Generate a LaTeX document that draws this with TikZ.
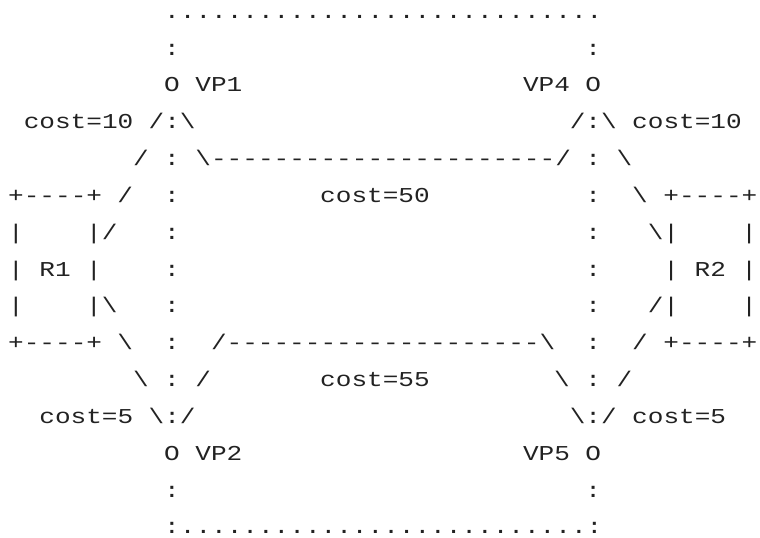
\documentclass[tikz,border=0pt]{standalone}
\usepackage{fontspec}
\setmonofont[FakeStretch=1.23]{Liberation Mono}
\definecolor{ink}{RGB}{34,34,34}
\newcommand{\bs}{\textbackslash}
\begin{document}
\begin{tikzpicture}[x=15.6pt,y=-36.83pt,
  txt/.style={anchor=base west,inner sep=0pt,outer sep=0pt,text=ink,
    font=\ttfamily\fontsize{21.2}{21.2}\selectfont}]
\useasboundingbox (-0.526,-0.497) rectangle (48.19,14.084);
% row 0
\node[txt] (topdots) at (10,0) {............................};
% row 1
\node[txt] (c1l) at (10,1) {:};
\node[txt] (c1r) at (37,1) {:};
% row 2
\node[txt] (vp1o) at (10,2) {O};
\node[txt] (vp1) at (12,2) {VP1};
\node[txt] (vp4) at (33,2) {VP4};
\node[txt] (vp4o) at (37,2) {O};
% row 3
\node[txt] (cost10l) at (1,3) {cost=10};
\node[txt] (fan1) at (9,3) {/:\bs};
\node[txt] (fan4) at (36,3) {/:\bs};
\node[txt] (cost10r) at (40,3) {cost=10};
% row 4
\node[txt] (r4a) at (8,4) {/};
\node[txt] (r4b) at (10,4) {:};
\node[txt] (link50) at (12,4) {\bs----------------------/};
\node[txt] (r4c) at (37,4) {:};
\node[txt] (r4d) at (39,4) {\bs};
% row 5
\node[txt] (r1top) at (0,5) {+----+};
\node[txt] (r5a) at (7,5) {/};
\node[txt] (r5b) at (10,5) {:};
\node[txt] (cost50) at (20,5) {cost=50};
\node[txt] (r5c) at (37,5) {:};
\node[txt] (r5d) at (40,5) {\bs};
\node[txt] (r2top) at (42,5) {+----+};
% row 6
\node[txt] (r6a) at (0,6) {|};
\node[txt] (r6b) at (5,6) {|/};
\node[txt] (r6c) at (10,6) {:};
\node[txt] (r6d) at (37,6) {:};
\node[txt] (r6e) at (41,6) {\bs|};
\node[txt] (r6f) at (47,6) {|};
% row 7
\node[txt] (r7a) at (0,7) {|};
\node[txt] (R1) at (2,7) {R1};
\node[txt] (r7b) at (5,7) {|};
\node[txt] (r7c) at (10,7) {:};
\node[txt] (r7d) at (37,7) {:};
\node[txt] (r7e) at (42,7) {|};
\node[txt] (R2) at (44,7) {R2};
\node[txt] (r7f) at (47,7) {|};
% row 8
\node[txt] (r8a) at (0,8) {|};
\node[txt] (r8b) at (5,8) {|\bs};
\node[txt] (r8c) at (10,8) {:};
\node[txt] (r8d) at (37,8) {:};
\node[txt] (r8e) at (41,8) {/|};
\node[txt] (r8f) at (47,8) {|};
% row 9
\node[txt] (r1bot) at (0,9) {+----+};
\node[txt] (r9a) at (7,9) {\bs};
\node[txt] (r9b) at (10,9) {:};
\node[txt] (link55) at (13,9) {/--------------------\bs};
\node[txt] (r9c) at (37,9) {:};
\node[txt] (r9d) at (40,9) {/};
\node[txt] (r2bot) at (42,9) {+----+};
% row 10
\node[txt] (r10a) at (8,10) {\bs};
\node[txt] (r10b) at (10,10) {:};
\node[txt] (r10c) at (12,10) {/};
\node[txt] (cost55) at (20,10) {cost=55};
\node[txt] (r10d) at (35,10) {\bs};
\node[txt] (r10e) at (37,10) {:};
\node[txt] (r10f) at (39,10) {/};
% row 11
\node[txt] (cost5l) at (2,11) {cost=5};
\node[txt] (fan2) at (9,11) {\bs:/};
\node[txt] (fan5) at (36,11) {\bs:/};
\node[txt] (cost5r) at (40,11) {cost=5};
% row 12
\node[txt] (vp2o) at (10,12) {O};
\node[txt] (vp2) at (12,12) {VP2};
\node[txt] (vp5) at (33,12) {VP5};
\node[txt] (vp5o) at (37,12) {O};
% row 13
\node[txt] (c13l) at (10,13) {:};
\node[txt] (c13r) at (37,13) {:};
% row 14
\node[txt] (botdots) at (10,14) {:..........................:};
\end{tikzpicture}
\end{document}
